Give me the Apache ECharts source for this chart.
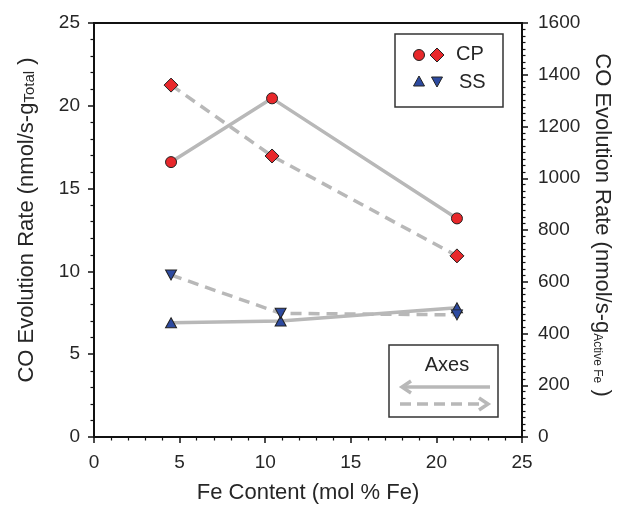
<!DOCTYPE html>
<html>
<head>
<meta charset="utf-8">
<script src="https://cdn.jsdelivr.net/npm/echarts@6/dist/echarts.min.js"></script>
<style>html,body{margin:0;padding:0;background:#fff;}#c{width:627px;height:515px;}</style>
</head>
<body>
<div id="c"></div>
<script>
// Data
var cpX = [4.5, 10.4, 21.2];
var cpTotal = [16.6, 20.45, 13.2];        // left axis (nmol/s-g Total)
var cpActive = [1360, 1086, 700];         // right axis (nmol/s-g Active Fe)
var ssX = [4.5, 10.9, 21.2];
var ssTotal = [6.9, 7.0, 7.8];            // left axis
var ssActive = [626, 478, 472];           // right axis
var xTicks = [0, 5, 10, 15, 20, 25];
var leftTicks = [0, 5, 10, 15, 20, 25];
var rightTicks = [0, 200, 400, 600, 800, 1000, 1200, 1400, 1600];

function pairs(xs, ys){ return xs.map(function(x,i){ return [x, ys[i]]; }); }

var FONT = 'Liberation Sans, Arial, sans-serif';
var TXT = '#262626';
var LINE = '#b8b8b8';
var RED = '#e8282b';
var BLUE = '#2d4aa0';

var axisCommon = {
  axisLine: {show: true, lineStyle: {color: '#111', width: 2}},
  axisTick: {show: true, inside: false, length: 6, lineStyle: {color: '#111', width: 1.5}},
  minorTick: {show: true, length: 3.5, lineStyle: {color: '#111', width: 1.2}},
  splitLine: {show: false},
  minorSplitLine: {show: false},
  axisLabel: {color: TXT, fontSize: 19, fontFamily: FONT, formatter: function(v){ return String(v); }}
};

var chart = echarts.init(document.getElementById('c'));
var option = {
  animation: false,
  backgroundColor: '#fff',
  grid: {left: 94, right: 105, top: 23, bottom: 78, show: true, borderColor: '#111', borderWidth: 2},
  xAxis: [Object.assign({}, axisCommon, {
    type: 'value', min: xTicks[0], max: xTicks[xTicks.length-1], interval: 5,
    minorTick: Object.assign({}, axisCommon.minorTick, {splitNumber: 5}),
    axisLabel: Object.assign({}, axisCommon.axisLabel, {margin: 16}),
    name: 'Fe Content (mol % Fe)', nameLocation: 'middle', nameGap: 45,
    nameTextStyle: {color: TXT, fontSize: 22, fontFamily: FONT}
  })],
  yAxis: [
    Object.assign({}, axisCommon, {
      type: 'value', position: 'left', min: leftTicks[0], max: leftTicks[leftTicks.length-1], interval: 5,
      minorTick: Object.assign({}, axisCommon.minorTick, {splitNumber: 5}),
      axisLabel: Object.assign({}, axisCommon.axisLabel, {margin: 14})
    }),
    Object.assign({}, axisCommon, {
      type: 'value', position: 'right', min: rightTicks[0], max: rightTicks[rightTicks.length-1], interval: 200,
      minorTick: Object.assign({}, axisCommon.minorTick, {splitNumber: 8}),
      axisLabel: Object.assign({}, axisCommon.axisLabel, {margin: 16})
    })
  ],
  series: [
    {type: 'line', name: 'CP total', xAxisIndex: 0, yAxisIndex: 0, data: pairs(cpX, cpTotal),
     lineStyle: {color: LINE, width: 3.5, type: 'solid'},
     symbol: 'circle', symbolSize: 11, itemStyle: {color: RED, borderColor: '#222', borderWidth: 1}, z: 3},
    {type: 'line', name: 'CP active', xAxisIndex: 0, yAxisIndex: 1, data: pairs(cpX, cpActive),
     lineStyle: {color: LINE, width: 3.5, type: [11, 7]},
     symbol: 'diamond', symbolSize: [14, 14], itemStyle: {color: RED, borderColor: '#222', borderWidth: 1}, z: 3},
    {type: 'line', name: 'SS total', xAxisIndex: 0, yAxisIndex: 0, data: pairs(ssX, ssTotal),
     lineStyle: {color: LINE, width: 3.5, type: 'solid'},
     symbol: 'triangle', symbolSize: [11, 10], itemStyle: {color: BLUE, borderColor: '#222', borderWidth: 1}, z: 3},
    {type: 'line', name: 'SS active', xAxisIndex: 0, yAxisIndex: 1, data: pairs(ssX, ssActive),
     lineStyle: {color: LINE, width: 3.5, type: [11, 7]},
     symbol: 'triangle', symbolRotate: 180, symbolSize: [11, 10], itemStyle: {color: BLUE, borderColor: '#222', borderWidth: 1}, z: 3}
  ],
  graphic: [
    // Left axis title
    {type: 'text', x: 24, y: 220, rotation: Math.PI/2,
     style: {text: '{m|CO Evolution Rate (nmol/s-g}{s|Total}{m| )}', align: 'center', verticalAlign: 'middle',
       rich: {m: {fontSize: 22, fontFamily: FONT, fill: TXT, lineHeight: 27, verticalAlign: 'bottom'},
              s: {fontSize: 15, fontFamily: FONT, fill: TXT, lineHeight: 20, verticalAlign: 'bottom'}}}},
    // Right axis title
    {type: 'text', x: 605, y: 225, rotation: -Math.PI/2,
     style: {text: '{m|CO Evolution Rate (nmol/s-g}{s|Active Fe}{m| )}', align: 'center', verticalAlign: 'middle',
       rich: {m: {fontSize: 22, fontFamily: FONT, fill: TXT, lineHeight: 27, verticalAlign: 'bottom'},
              s: {fontSize: 12, fontFamily: FONT, fill: TXT, lineHeight: 17, verticalAlign: 'bottom'}}}},
    // Series legend box
    {type: 'rect', shape: {x: 395, y: 34, width: 108, height: 73}, style: {fill: '#fff', stroke: '#333', lineWidth: 1.5}, z: 10},
    {type: 'circle', shape: {cx: 419, cy: 55, r: 5.5}, style: {fill: RED, stroke: '#222', lineWidth: 1}, z: 11},
    {type: 'polygon', shape: {points: [[437,48],[444,55],[437,62],[430,55]]}, style: {fill: RED, stroke: '#222', lineWidth: 1}, z: 11},
    {type: 'text', x: 456, y: 54, style: {text: 'CP', fontSize: 20, fontFamily: FONT, fill: TXT, verticalAlign: 'middle'}, z: 11},
    {type: 'polygon', shape: {points: [[419,76],[424.5,86],[413.5,86]]}, style: {fill: BLUE, stroke: '#222', lineWidth: 1}, z: 11},
    {type: 'polygon', shape: {points: [[431.5,77],[442.5,77],[437,87]]}, style: {fill: BLUE, stroke: '#222', lineWidth: 1}, z: 11},
    {type: 'text', x: 459, y: 82, style: {text: 'SS', fontSize: 20, fontFamily: FONT, fill: TXT, verticalAlign: 'middle'}, z: 11},
    // Axes legend box
    {type: 'rect', shape: {x: 389, y: 345, width: 109, height: 72}, style: {fill: '#fff', stroke: '#333', lineWidth: 1.5}, z: 10},
    {type: 'text', x: 447, y: 365, style: {text: 'Axes', fontSize: 20, fontFamily: FONT, fill: TXT, align: 'center', verticalAlign: 'middle'}, z: 11},
    {type: 'line', shape: {x1: 402, y1: 387, x2: 490, y2: 387}, style: {stroke: LINE, lineWidth: 3.5}, z: 11},
    {type: 'polyline', shape: {points: [[411,381],[402,387],[411,393]]}, style: {stroke: LINE, lineWidth: 3.5, fill: null}, z: 11},
    {type: 'line', shape: {x1: 400, y1: 404, x2: 488, y2: 404}, style: {stroke: LINE, lineWidth: 3.5, lineDash: [11, 6]}, z: 11},
    {type: 'polyline', shape: {points: [[479,398],[488,404],[479,410]]}, style: {stroke: LINE, lineWidth: 3.5, fill: null}, z: 11}
  ]
};
chart.setOption(option);
</script>
</body>
</html>
